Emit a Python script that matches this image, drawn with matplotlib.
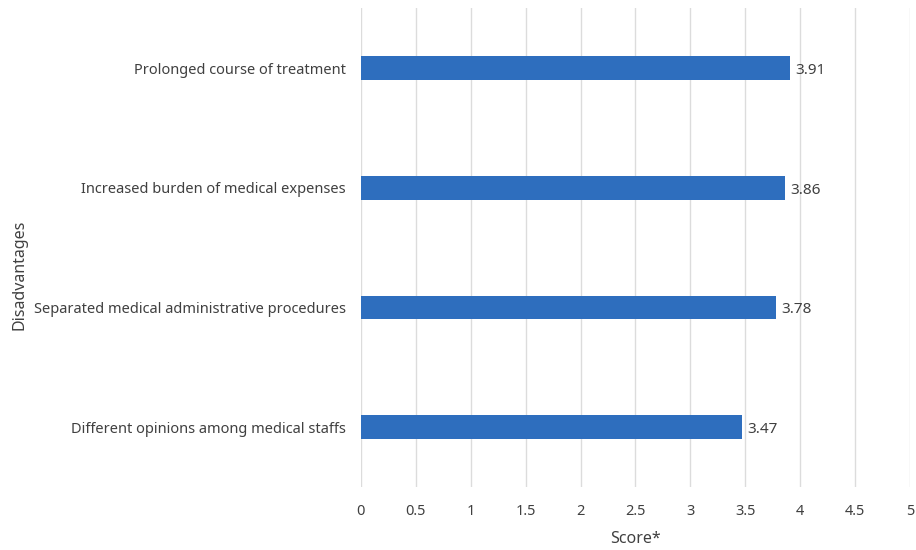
import matplotlib.pyplot as plt

plt.rcParams['font.family'] = ['Noto Sans', 'DejaVu Sans']

## Data
categories = ['Different opinions among medical staffs',
              'Separated medical administrative procedures',
              'Increased burden of medical expenses',
              'Prolonged course of treatment']
scores = [3.47, 3.78, 3.86, 3.91]
x_ticks = [0, 0.5, 1, 1.5, 2, 2.5, 3, 3.5, 4, 4.5, 5]

text_col = '#404040'
bar_col = '#2E6EBE'

fig = plt.figure(figsize=(9.16, 5.5), dpi=100)
ax = fig.add_axes([0.394, 0.1145, 0.5994, 0.8705])

ax.barh(range(len(categories)), scores, height=0.2, color=bar_col, zorder=3)
for i, v in enumerate(scores):
    ax.text(v + 0.05, i - 0.02, format(v, '.2f'), va='center', ha='left',
            fontsize=11, color=text_col)

ax.set_xlim(0, 5)
ax.set_ylim(-0.5, 3.5)
ax.set_xticks(x_ticks)
ax.set_xticklabels([format(t, 'g') for t in x_ticks])
ax.set_yticks(range(len(categories)))
ax.set_yticklabels(categories)
ax.tick_params(axis='both', length=0, labelsize=10.5, labelcolor=text_col)
ax.tick_params(axis='x', pad=12)
ax.tick_params(axis='y', pad=11)
ax.grid(axis='x', color='#dcdcdc', linewidth=1, zorder=0)
for s in ax.spines.values():
    s.set_visible(False)

ax.set_xlabel('Score*', fontsize=11.5, color=text_col, labelpad=9)
fig.text(0.021, 0.5, 'Disadvantages', rotation=90, va='center', ha='center',
         fontsize=11.5, color=text_col)

fig.savefig('out.png', dpi=100)
